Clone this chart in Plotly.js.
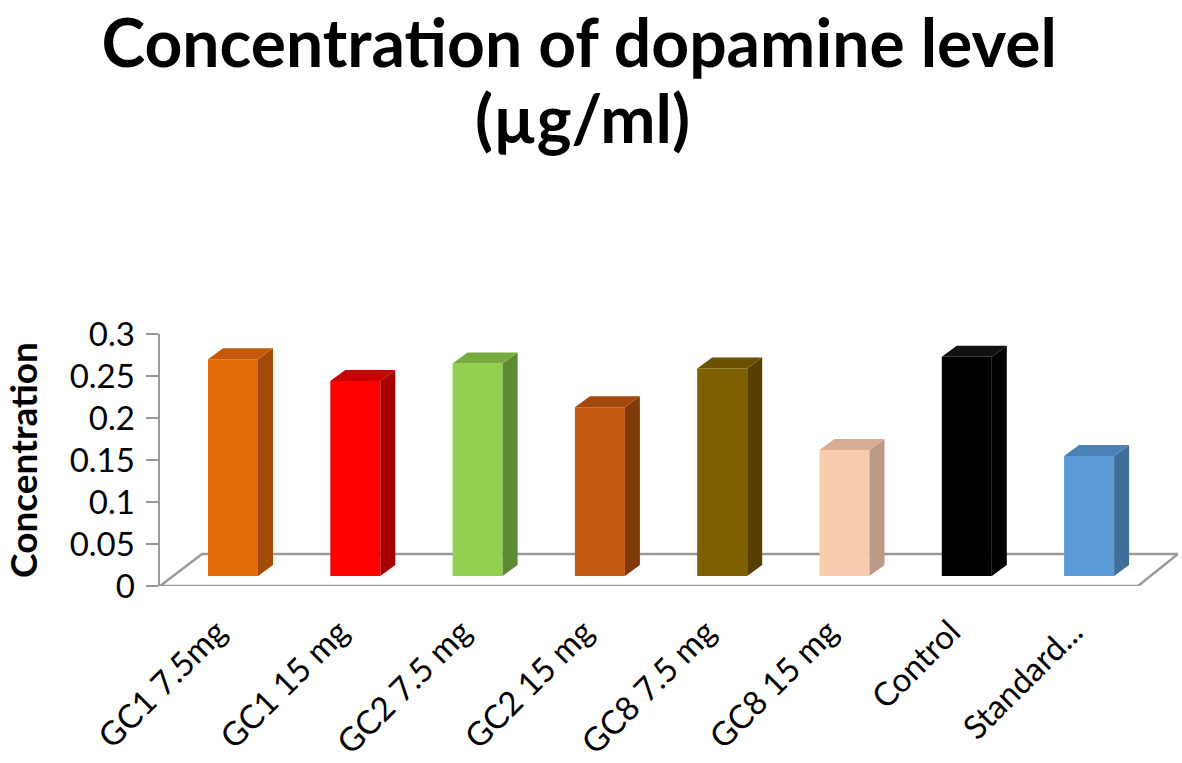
<!DOCTYPE html>
<html>
<head>
<meta charset="utf-8">
<script src="https://cdn.plot.ly/plotly-3.0.1.min.js"></script>
<style>html,body{margin:0;padding:0;background:#fff;}#chart{width:1182px;height:763px;}</style>
</head>
<body>
<div id="chart"></div>
<script>
// ---- data ----
const categories = ["GC1 7.5mg", "GC1 15 mg", "GC2 7.5 mg", "GC2 15 mg", "GC8 7.5 mg", "GC8 15 mg", "Control", "Standard..."];
const values = [0.258, 0.232, 0.253, 0.201, 0.247, 0.150, 0.261, 0.143];
const frontColors = ["#E46C0A", "#FF0000", "#92D050", "#C55A11", "#7F6000", "#F8CBAD", "#000000", "#5B9BD5"];
const topColors   = ["#C4590A", "#C80000", "#76AC3E", "#A3470C", "#6A5000", "#D8AE93", "#111111", "#4A82B8"];
const sideColors  = ["#A24A07", "#A80000", "#5E8A34", "#82390A", "#554000", "#BD9A84", "#000000", "#3E6E99"];
const yTickVals = [0, 0.05, 0.1, 0.15, 0.2, 0.25, 0.3];
const titleLine1 = 'Concentration of dopamine level';
const titleLine2 = '(µg/ml)';

// ---- geometry (styles) ----
const pxPerCat = 122.3, pxPerUnit = 840;
const barW = 50 / pxPerCat;
const dx = 15 / pxPerCat, dy = 11 / pxPerUnit;
const baseShift = 10 / pxPerUnit;
const xPos = categories.map((_, i) => i);

const traces = [];
traces.push({
  type: 'bar', x: xPos, y: values, width: barW, yaxis: 'y2',
  marker: {color: frontColors, line: {width: 0}}, hoverinfo: 'x+y', showlegend: false
});
values.forEach((v, i) => {
  const r = xPos[i] + barW / 2, l = xPos[i] - barW / 2;
  traces.push({
    type: 'scatter', mode: 'lines', yaxis: 'y2', fill: 'toself', fillcolor: sideColors[i],
    line: {width: 0, color: sideColors[i]}, hoverinfo: 'skip', showlegend: false,
    x: [r, r + dx, r + dx, r, r], y: [0, dy, v + dy, v, 0]
  });
  traces.push({
    type: 'scatter', mode: 'lines', yaxis: 'y2', fill: 'toself', fillcolor: topColors[i],
    line: {width: 0, color: topColors[i]}, hoverinfo: 'skip', showlegend: false,
    x: [l, r, r + dx, l + dx, l], y: [v, v, v + dy, v + dy, v]
  });
});

const xL = -73 / pxPerCat, xR = xL + 1018 / pxPerCat;
const floorD = 32 / pxPerUnit, floorDx = 42 / pxPerCat;
const floorFrontR = xR - 40 / pxPerCat;

const layout = {
  width: 1182, height: 763,
  paper_bgcolor: '#fff', plot_bgcolor: 'rgba(0,0,0,0)',
  font: {family: 'Lato, "Open Sans", sans-serif', color: '#000'},
  margin: {l: 160, r: 4, t: 334, b: 177},
  title: {
    text: titleLine1,
    font: {family: 'Lato, sans-serif', size: 66, color: '#000', weight: 'bold'},
    x: 0.49, xref: 'container', xanchor: 'center',
    y: 1 - 44 / 763, yref: 'container', yanchor: 'middle'
  },
  annotations: [{
    text: titleLine2, showarrow: false, xref: 'paper', yref: 'paper',
    x: (582 - 160) / 1018, y: (586 - 118) / 252, xanchor: 'center', yanchor: 'middle',
    font: {family: 'Lato, sans-serif', size: 66, color: '#000', weight: 'bold'}
  }],
  xaxis: {
    range: [xL, xR], tickvals: xPos, ticktext: categories, tickangle: -45,
    showgrid: false, zeroline: false, showline: false, ticks: '',
    tickfont: {size: 33, family: 'Lato, sans-serif'}, ticklabelstandoff: 19, ticklabelshift: -16,
    fixedrange: true
  },
  yaxis: {
    range: [0, 0.3], tickvals: yTickVals, ticks: 'outside', ticklen: 12, tickwidth: 2.5,
    tickcolor: '#9a9a9a', showline: true, linecolor: '#9a9a9a', linewidth: 2.5,
    showgrid: false, zeroline: false, tickfont: {size: 33, family: 'Lato, sans-serif'},
    ticklabelstandoff: 4, automargin: true,
    title: {text: 'Concentration', font: {size: 37, weight: 'bold', family: 'Lato, sans-serif'}, standoff: 28},
    fixedrange: true
  },
  yaxis2: {
    overlaying: 'y', range: [-baseShift, 0.3 - baseShift], visible: false, fixedrange: true
  },
  shapes: [{
    type: 'path', xref: 'x', yref: 'y', layer: 'below',
    path: `M ${xL} 0 L ${floorFrontR} 0 L ${xR} ${floorD} L ${xL + floorDx} ${floorD} Z`,
    line: {color: '#9a9a9a', width: 2.5}, fillcolor: '#fff'
  }]
};

Plotly.newPlot('chart', traces, layout, {displayModeBar: false, staticPlot: true});
</script>
</body>
</html>
